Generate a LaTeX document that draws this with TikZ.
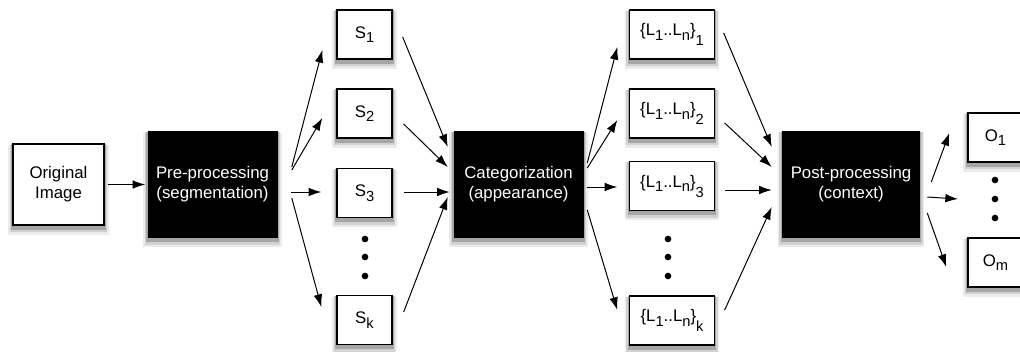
\documentclass[tikz,border=0pt]{standalone}
\usepackage{fontspec}
\setmainfont{Liberation Sans}
\usetikzlibrary{calc,backgrounds,arrows.meta}

\newcommand{\sub}[1]{\raisebox{-3.5pt}{\fontsize{11}{12}\selectfont #1}}
\newcommand{\lset}[1]{\{L\sub{1}..L\sub{n}\}\raisebox{-7.5pt}{\fontsize{11}{12}\selectfont #1}}

\begin{document}
\begin{tikzpicture}[x=0.75pt, y=-0.75pt,
      font=\fontsize{12.6}{15}\selectfont,
      box/.style={rectangle, draw, line width=1pt, fill=white,
                  inner sep=0pt, align=center},
      stage/.style={rectangle, fill=black, text=white,
                    inner sep=0pt, align=center,
                    minimum width=130*0.75pt, minimum height=107*0.75pt},
      small/.style={box, minimum width=55*0.75pt, minimum height=49*0.75pt},
      wide/.style={box, minimum width=85*0.75pt, minimum height=49*0.75pt},
      arr/.style={-{Latex[length=9.5pt, width=6.5pt]}, line width=0.75pt}]
    \useasboundingbox (0,0) rectangle (1020,351);

    % input and the three stages
    \node[box, minimum width=91*0.75pt, minimum height=81*0.75pt] (orig) at (58.5,184.5) {Original\\Image};
    \node[stage] (pre) at (212.5,184.5) {Pre-processing\\(segmentation)};
    \node[stage] (cat) at (518.5,184.5) {Categorization\\(appearance)};
    \node[stage, minimum width=138*0.75pt] (post) at (851,184.5) {Post-processing\\(context)};

    % segments
    \node[small] (s1) at (364.5,34.5) {S\sub{1}};
    \node[small] (s2) at (364.5,113.5) {S\sub{2}};
    \node[small] (s3) at (364.5,193) {S\sub{3}};
    \node[small] (sk) at (364.5,320) {S\sub{k}};

    % label sets
    \node[wide] (l1) at (672,34.5) {\lset{1}};
    \node[wide] (l2) at (672,113.5) {\lset{2}};
    \node[wide] (l3) at (672,186) {\lset{3}};
    \node[wide] (lk) at (672,320.5) {\lset{k}};

    % outputs
    \node[small] (o1) at (995.5,137.5) {O\sub{1}};
    \node[small] (om) at (995.5,262.5) {O\sub{m}};
    \coordinate (odots) at (995,199);

    % soft shadows under every box
    \begin{scope}[on background layer]
      \foreach \n in {orig,pre,cat,post,s1,s2,s3,sk,l1,l2,l3,lk,o1,om} {
        \fill[black!8] ($(\n.south west)+(-4,9)$) rectangle ($(\n.north east)+(4,2)$);
        \fill[black!18] ($(\n.south west)+(-2.5,6.5)$) rectangle ($(\n.north east)+(2.5,1.5)$);
        \fill[black!35] ($(\n.south west)+(-1,4)$) rectangle ($(\n.north east)+(1,1)$);
      }
    \end{scope}

    \foreach \y in {239,257,276} {
      \fill (365,\y) circle (2.5pt);
      \fill (668,\y) circle (2.5pt);
    }
    \foreach \y in {180,199,218}
      \fill (995,\y) circle (2.5pt);

    \draw[arr] ($(orig.east)+(3,0)$) -- ($(pre.west)+(-2,0)$);

    \draw[arr] ($(pre.east)+(14,-17.5)$) -- ($(s1.west)+(-14,15.5)$);
    \draw[arr] ($(pre.east)+(14,-14.5)$) -- ($(s2.west)+(-14,4.5)$);
    \draw[arr] ($(pre.east)+(13,7.5)$) -- ($(s3.west)+(-15,-1)$);
    \draw[arr] ($(pre.east)+(14,13.5)$) -- ($(sk.west)+(-15,-13)$);

    \draw[arr] ($(s1.east)+(10,2.5)$) -- ($(cat.west)+(-5.5,-37.5)$);
    \draw[arr] ($(s2.east)+(11,10.5)$) -- ($(cat.west)+(-5.5,-17.5)$);
    \draw[arr] ($(s3.east)+(11,-1)$) -- ($(cat.west)+(-3.5,7.5)$);
    \draw[arr] ($(sk.east)+(11,-8)$) -- ($(cat.west)+(-5.5,12.5)$);

    \draw[arr] ($(cat.east)+(3.5,-21.5)$) -- ($(l1.west)+(-11.5,12.5)$);
    \draw[arr] ($(cat.east)+(3.5,-16.5)$) -- ($(l2.west)+(-11.5,6.5)$);
    \draw[arr] ($(cat.east)+(3.5,2.5)$) -- ($(l3.west)+(-11.5,1)$);
    \draw[arr] ($(cat.east)+(3.5,25.5)$) -- ($(lk.west)+(-11.5,-10.5)$);

    \draw[arr] ($(l1.east)+(8.5,-1.5)$) -- ($(post.west)+(-10,-37.5)$);
    \draw[arr] ($(l2.east)+(9.5,9.5)$) -- ($(post.west)+(-10,-17.5)$);
    \draw[arr] ($(l3.east)+(9.5,4)$) -- ($(post.west)+(-10,5.5)$);
    \draw[arr] ($(lk.east)+(9.5,-10.5)$) -- ($(post.west)+(-10,22.5)$);

    \draw[arr] ($(post.east)+(11,-2.5)$) -- ($(o1.west)+(-18,-4.5)$);
    \draw[arr] ($(post.east)+(7,12.5)$) -- ($(odots)+(-37,0)$);
    \draw[arr] ($(post.east)+(7,28.5)$) -- ($(om.west)+(-21,4.5)$);
  \end{tikzpicture}
\end{document}
